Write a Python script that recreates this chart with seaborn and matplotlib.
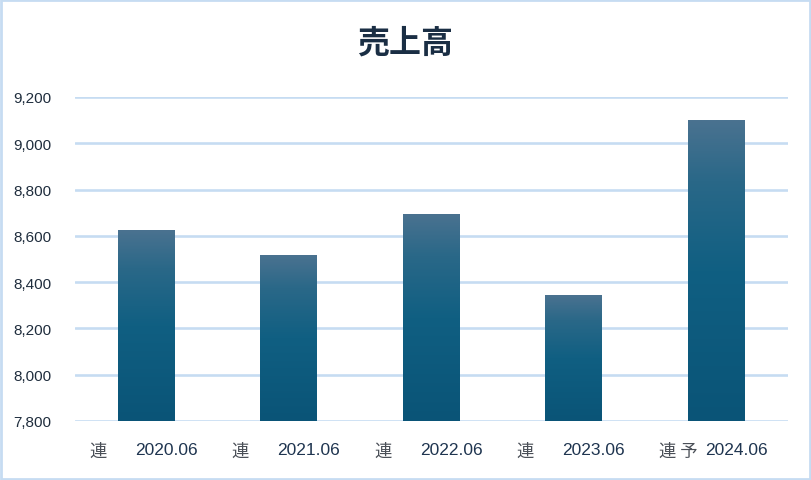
import numpy as np
import pandas as pd
import matplotlib
matplotlib.use('Agg')
import matplotlib.pyplot as plt
import matplotlib.transforms as mtransforms
from matplotlib.colors import LinearSegmentedColormap
from matplotlib.patches import Rectangle
import seaborn as sns

# Data
periods = ['2020.06', '2021.06', '2022.06', '2023.06', '2024.06']
prefixes = ['連', '連', '連', '連', '連 予']
sales = [8625, 8517, 8694, 8344, 9100]

df = pd.DataFrame({'period': periods, 'sales': sales})

sns.set_style('white')
plt.rcParams['font.family'] = ['Liberation Sans', 'Noto Sans CJK JP', 'DejaVu Sans']

fig = plt.figure(figsize=(8.11, 4.81), dpi=100)
ax = fig.add_axes([75 / 811, 59 / 481, 712.5 / 811, 324 / 481])

sns.barplot(data=df, x='period', y='sales', width=0.4, color='#105f82',
            ax=ax, zorder=3)

ax.set_ylim(7800, 9200)
ax.set_yticks(np.arange(7800, 9201, 200))
ax.set_yticklabels([f'{v:,}' for v in range(7800, 9201, 200)])
ax.grid(axis='y', color='#c6dcf2', linewidth=1.9, zorder=0)
ax.grid(axis='x', visible=False)
for s in ax.spines.values():
    s.set_visible(False)
ax.tick_params(axis='y', length=0, pad=17, labelsize=11, labelcolor='#1f2d3d')
ax.tick_params(axis='x', length=0, pad=15, labelsize=12.5, labelcolor='#1f3550')
ax.set_xlabel('')
ax.set_ylabel('')

# gradient fill for bars
cmap = LinearSegmentedColormap.from_list(
    'bar', [(0, '#0a5477'), (0.5, '#105f82'), (0.8, '#2a6888'), (1, '#4a7290')])
grad = np.linspace(0, 1, 256).reshape(-1, 1)
for p in list(ax.patches):
    x0, y0 = p.get_x(), p.get_y()
    w, h = p.get_width(), p.get_height()
    im = ax.imshow(grad, cmap=cmap, origin='lower', aspect='auto',
                   extent=[x0, x0 + w, 7800, y0 + h], zorder=3)
    im.set_clip_path(p)
    p.set_facecolor('none')
    p.set_edgecolor('none')
ax.set_xlim(-0.5, len(periods) - 0.5)
ax.set_ylim(7800, 9200)

# shift period labels right, add prefix labels
shift = mtransforms.ScaledTranslation(20 / 100, 0, fig.dpi_scale_trans)
for lab in ax.get_xticklabels():
    lab.set_transform(lab.get_transform() + shift)

for i, pre in enumerate(prefixes):
    tr = mtransforms.blended_transform_factory(ax.transData, ax.transAxes) + \
        mtransforms.ScaledTranslation(-57 / 100, 0, fig.dpi_scale_trans)
    ax.text(i, -30 / 324, pre, transform=tr, ha='left', va='center',
            fontsize=12.5, color='#4a4f57',
            family=['Noto Sans CJK JP', 'DejaVu Sans'])

fig.text(0.5, 1 - 44 / 481, '売上高', ha='center', va='center', fontsize=23,
         fontweight='bold', color='#1a2e44',
         family=['Noto Sans CJK JP', 'DejaVu Sans'])

# figure border
fig.patches.append(Rectangle((1 / 811, 1 / 481), 809 / 811, 479 / 481,
                             transform=fig.transFigure, fill=False,
                             edgecolor='#c6dcf2', linewidth=2))

fig.savefig('out.png', dpi=100)
